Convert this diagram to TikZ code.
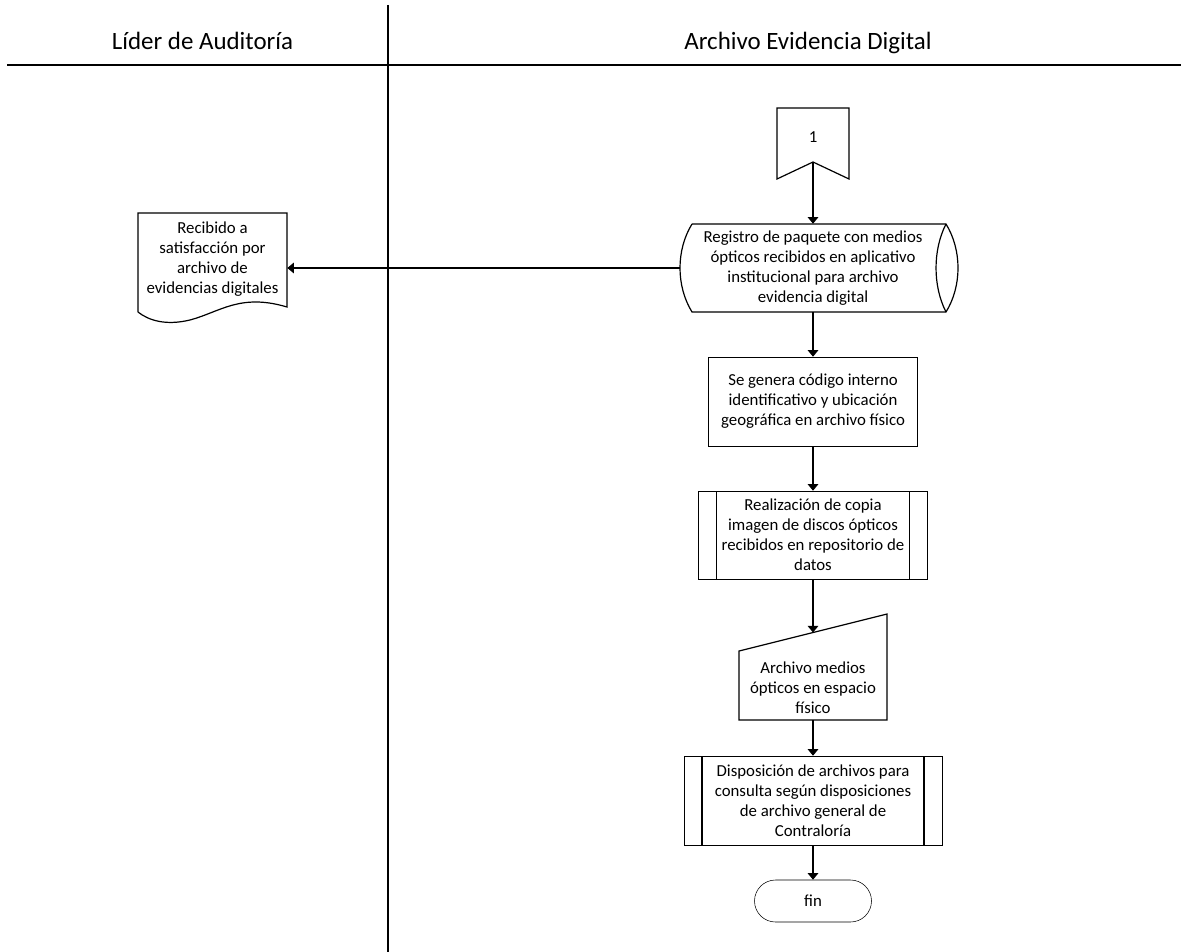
\documentclass[tikz,border=0pt]{standalone}
\usepackage{fontspec}
\setmainfont{Carlito}
\usetikzlibrary{arrows.meta,calc}

\tikzset{
  line/.style={line width=0.9pt, black},
  arr/.style={line, -{Triangle[length=5pt,width=8pt]}},
  txt/.style={align=center, inner sep=0pt, font=\fontsize{12.6}{15}\selectfont},
  hdr/.style={inner sep=0pt, anchor=base, font=\fontsize{18.7}{22}\selectfont},
  frame/.style={draw=none, inner sep=0pt, minimum width=#1},
}

\begin{document}
\begin{tikzpicture}[x=0.75pt, y=-0.75pt]
  \useasboundingbox[fill=white] (0,0) rectangle (1191,952);

  % swimlane headers
  \draw[line] (7,65) -- (1181,65);
  \draw[line] (388,5) -- (388,952);
  \node[hdr] (laneA) at (202.5,50) {Líder de Auditoría};
  \node[hdr] (laneB) at (808,50) {Archivo Evidencia Digital};

  % off-page connector
  \node[txt, frame=54pt, minimum height=53.25pt] (off) at (813,143.5) {};
  \node[txt] (offlbl) at (813,137) {1};
  \draw[line] (777,108) -- (849,108) -- (849,179) -- (813,162) -- (777,179) -- cycle;
  \coordinate (offtip) at (813,162);

  % stored data
  \node[txt, frame=199.5pt, minimum height=66pt] (sd) at (813,268)
    {Registro de paquete con medios\\ ópticos recibidos en aplicativo\\ institucional para archivo\\ evidencia digital};
  \draw[line] (692,224) -- (946,224)
    .. controls (962,250) and (962,286) .. (946,312) -- (692,312)
    .. controls (676,286) and (676,250) .. (692,224);
  \draw[line] (946,224) .. controls (932.7,250) and (932.7,286) .. (946,312);

  % document
  \node[txt, frame=111.75pt, minimum height=69pt] (doc) at (212.5,259.5)
    {Recibido a\\ satisfacción por\\ archivo de\\ evidencias digitales};
  \draw[line] (138,312) -- (138,213) -- (287,213) -- (287,307)
    .. controls (240,293) and (220,312) .. (190,320)
    .. controls (165,326) and (148,320) .. (138,312);

  % process
  \node[txt, frame=156.75pt, minimum height=66.75pt, draw] (gen) at (813,401.5)
    {Se genera código interno\\ identificativo y ubicación\\ geográfica en archivo físico};

  % predefined process 1
  \node[txt, frame=171.75pt, minimum height=66pt, draw] (copia) at (813,535)
    {Realización de copia\\ imagen de discos ópticos\\ recibidos en repositorio de\\ datos};
  \draw[line] (716.5,491) -- (716.5,579);
  \draw[line] (909.5,491) -- (909.5,579);

  % manual input
  \node[txt, frame=111pt, minimum height=48pt] (man) at (813,688)
    {Archivo medios\\ ópticos en espacio\\ físico};
  \draw[line] (739,651) -- (887,614) -- (887,720) -- (739,720) -- cycle;
  \coordinate (mantop) at (813,632.5);

  % predefined process 2
  \node[txt, frame=193.5pt, minimum height=66.75pt, draw] (disp) at (813,800.5)
    {Disposición de archivos para\\ consulta según disposiciones\\ de archivo general de\\ Contraloría};
  \draw[line] (702,756) -- (702,845);
  \draw[line] (924,756) -- (924,845);

  % terminator
  \node[txt, frame=87.75pt, minimum height=31.5pt, draw, rounded corners=15.75pt] (fin) at (813,901) {fin};

  % connectors
  \draw[arr] (offtip) -- (sd.north);
  \draw[arr] (sd.west) -- (sd.west -| doc.east);
  \draw[arr] (sd.south) -- (gen.north);
  \draw[arr] (gen.south) -- (copia.north);
  \draw[arr] (copia.south) -- (mantop);
  \draw[arr] (man.south) -- (disp.north);
  \draw[arr] (disp.south) -- (fin.north);
\end{tikzpicture}
\end{document}
